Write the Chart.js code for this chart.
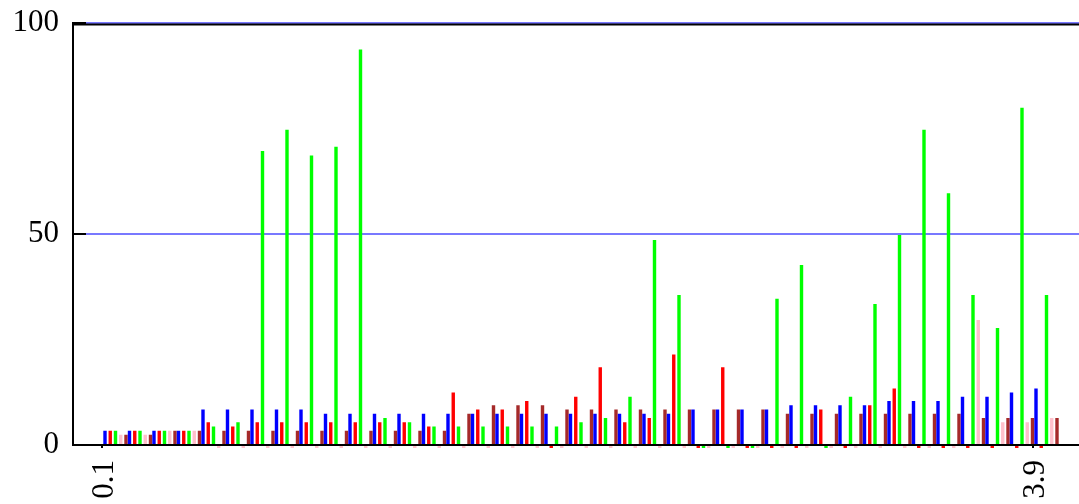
<!DOCTYPE html>
<html><head><meta charset="utf-8">
<script src="https://cdn.jsdelivr.net/npm/chart.js@4.4.1/dist/chart.umd.min.js"></script>
<style>html,body{margin:0;padding:0;background:#fff;overflow:hidden}canvas{display:block}</style>
</head><body>
<canvas id="c" width="1079" height="504"></canvas>
<script>
const categories = ['0.1','0.2','0.3','0.4','0.5','0.6','0.7','0.8','0.9','1.0',
  '1.1','1.2','1.3','1.4','1.5','1.6','1.7','1.8','1.9','2.0',
  '2.1','2.2','2.3','2.4','2.5','2.6','2.7','2.8','2.9','3.0',
  '3.1','3.2','3.3','3.4','3.5','3.6','3.7','3.8','3.9'];
const blueValues = [3.4,3.4,3.4,3.4,8.4,8.4,8.4,8.4,8.4,7.4,
  7.4,7.4,7.4,7.4,7.4,7.4,7.4,7.4,7.4,7.4,
  7.4,7.4,7.4,7.4,8.4,8.4,8.4,8.4,9.4,9.4,
  9.4,9.4,10.4,10.4,10.4,11.4,11.4,12.4,13.4];
const redValues = [3.4,3.4,3.4,3.4,5.4,4.4,5.4,5.4,5.4,5.4,
  5.4,5.4,5.4,4.4,12.4,8.4,8.4,10.4,0,11.4,
  18.4,5.4,6.4,21.4,0,18.4,0,0,0,8.4,
  0,9.4,13.4,0,0,0,0,0,0];
const greenValues = [3.4,3.4,3.4,3.4,4.4,5.4,69.6,74.6,68.5,70.6,
  93.6,6.4,5.4,4.4,4.4,4.4,4.4,4.4,4.4,5.4,
  6.4,11.4,48.5,35.5,0,0,0,34.6,42.6,0,
  11.4,33.4,49.7,74.6,59.6,35.5,27.7,79.8,35.5];
const pinkValues = [2.4,2.4,3.4,3.4,0,0,0,0,0,0,
  0,0,0,0,0,0,0,0,0,0,
  0,0,0,0,0,0,0,0,0,0,
  0,0,0,0,0,29.6,5.4,5.4,6.4];
const brownValues = [2.4,2.4,3.4,3.4,3.4,3.4,3.4,3.4,3.4,3.4,
  3.4,3.4,3.4,3.4,7.4,9.4,9.4,9.4,8.4,8.4,
  8.4,8.4,8.4,8.4,8.4,8.4,8.4,7.4,7.4,7.4,
  7.4,7.4,7.4,7.4,7.4,6.4,6.4,6.4,6.4];
const yTickLabels = ['0','50','100'];
const xTickLabels = ['0.1','3.9'];

const serif = {family: '"Liberation Serif", "DejaVu Serif", serif', size: 31};
const gridBlue = '#7878ff';

function barSet(values, color) {
  return {
    data: values, backgroundColor: color, borderWidth: 0,
    xAxisID: 'x', yAxisID: 'y',
    categoryPercentage: 1.0714, barPercentage: 0.65
  };
}

const framePlugin = {
  id: 'frame',
  beforeDatasetsDraw(chart) {
    const ctx = chart.ctx, a = chart.chartArea, y = chart.scales.y;
    ctx.save();
    ctx.fillStyle = gridBlue;
    y.ticks.forEach(t => {
      if (t.value > 0) {
        const py = Math.round(y.getPixelForValue(t.value));
        ctx.fillRect(a.left, py - 1, a.right - a.left, 2);
      }
    });
    ctx.restore();
  },
  afterDatasetsDraw(chart) {
    const ctx = chart.ctx;
    const z = chart.scales.y.getPixelForValue(0);
    ctx.save();
    chart.data.datasets.forEach((ds, d) => {
      const meta = chart.getDatasetMeta(d);
      meta.data.forEach((bar, i) => {
        if (ds.data[i] === 0) {
          ctx.fillStyle = ds.backgroundColor;
          ctx.fillRect(bar.x - bar.width / 2, z + 1, bar.width, 2);
        }
      });
    });
    ctx.restore();
  },
  afterDraw(chart) {
    const ctx = chart.ctx, a = chart.chartArea, y = chart.scales.y, xt = chart.scales.xt;
    ctx.save();
    ctx.fillStyle = '#000';
    ctx.fillRect(a.left - 1, 23.5, a.right - a.left + 1, 2);
    y.ticks.forEach(t => {
      if (t.value > 0) {
        const py = Math.round(y.getPixelForValue(t.value));
        ctx.fillRect(a.left - 1, py - 1, 14, 2);
      }
    });
    xt.ticks.forEach(t => {
      const px = Math.round(xt.getPixelForValue(t.value));
      ctx.fillRect(px - 1, a.bottom + 1, 2, 2);
    });
    ctx.restore();
  }
};

new Chart(document.getElementById('c'), {
  type: 'bar',
  data: {
    labels: categories,
    datasets: [
      barSet(blueValues, '#0000ff'),
      barSet(redValues, '#ff0000'),
      barSet(greenValues, '#00ff00'),
      barSet(pinkValues, '#ffc0cb'),
      barSet(brownValues, '#a52a2a')
    ]
  },
  options: {
    responsive: false,
    animation: false,
    devicePixelRatio: 1,
    layout: {padding: {top: 22.5, left: 0, right: 0, bottom: 0}},
    plugins: {legend: {display: false}, tooltip: {enabled: false}},
    scales: {
      x: {
        type: 'linear', display: false, offset: false,
        min: -0.07347, max: 4.03265,
        ticks: {includeBounds: false, stepSize: 1}
      },
      xt: {
        type: 'linear', axis: 'x', position: 'bottom', offset: false,
        min: -0.01714, max: 4.08898,
        afterBuildTicks: s => { s.ticks = xTickLabels.map(l => ({value: parseFloat(l)})); },
        afterFit: s => { s.height = 59; s.paddingLeft = 0; s.paddingRight = 0; },
        grid: {display: false, drawOnChartArea: false, drawTicks: false},
        border: {display: true, color: '#000', width: 2, z: 1},
        ticks: {
          autoSkip: false, minRotation: 90, maxRotation: 90, padding: 15,
          labelOffset: 3,
          color: '#000', font: serif,
          callback: (v, i) => xTickLabels[i]
        }
      },
      y: {
        type: 'linear', position: 'left', min: 0, max: 100,
        afterBuildTicks: s => { s.ticks = yTickLabels.map(l => ({value: parseFloat(l)})); },
        afterFit: s => { s.width = 73; s.paddingTop = 0; s.paddingBottom = 0; },
        grid: {display: false, drawTicks: false},
        border: {display: true, color: '#000', width: 2, z: 1},
        ticks: {padding: 14, color: '#000', font: serif, callback: (v, i) => yTickLabels[i]}
      }
    }
  },
  plugins: [framePlugin]
});
</script>
</body></html>
